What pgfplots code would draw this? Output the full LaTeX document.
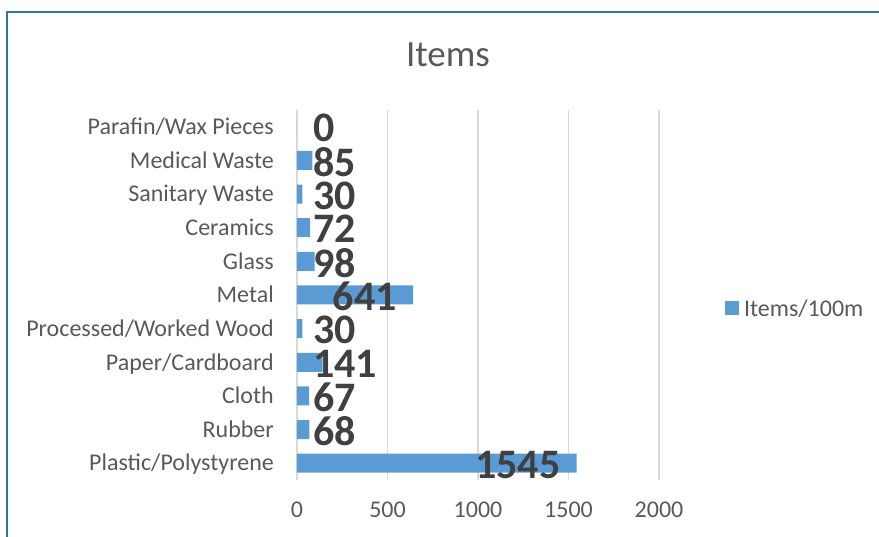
\documentclass[border=0pt]{standalone}
\usepackage{pgfplots}
\pgfplotsset{compat=1.18}
\usepackage{fontspec}
\setmainfont{Carlito}
\definecolor{barblue}{HTML}{5B9BD5}
\definecolor{txtgray}{HTML}{595959}
\definecolor{lblgray}{HTML}{404040}
\definecolor{gridgray}{HTML}{D9D9D9}
\definecolor{borderblue}{HTML}{2E75B6}
\begin{document}
\begin{tikzpicture}[x=1pt,y=1pt]
\useasboundingbox (0,0) rectangle (879,536);
\draw[borderblue, line width=1.3pt] (7,-5) -- (7,524) -- (885,524);
\node[anchor=base, text=txtgray, font=\fontsize{37}{44}\selectfont, inner sep=0pt] at (448,469.3) {Items};
\begin{axis}[
  at={(297pt,56pt)}, anchor=south west,
  scale only axis, width=362pt, height=370pt,
  xmin=0, xmax=2000, ymin=-0.5, ymax=10.5,
  enlargelimits=false,
  axis line style={draw=none},
  major tick length=0pt,
  xtick={0,500,1000,1500,2000},
  ytick={0,...,10},
  yticklabels={Plastic/Polystyrene, Rubber, Cloth, Paper/Cardboard, Processed/Worked Wood, Metal, Glass, Ceramics, Sanitary Waste, Medical Waste, Parafin/Wax Pieces},
  xmajorgrids, grid style={gridgray, line width=1.2pt},
  /pgf/number format/assume math mode=true,
  /pgf/number format/1000 sep={},
  xticklabel style={anchor=north, inner sep=0pt, yshift=-22pt, text=txtgray, font=\fontsize{24}{28}\selectfont},
  yticklabel style={anchor=east, inner sep=0pt, xshift=-23pt, text=txtgray, font=\fontsize{24}{28}\selectfont, text height=15.5pt, text depth=0pt},
  clip=false,
  legend style={at={(1.182,0.462)}, anchor=west, draw=none, fill=none, inner sep=0pt, column sep=5pt, nodes={inner sep=0pt}, font=\fontsize{24}{28}\selectfont, text=txtgray},
  legend cell align=left,
  legend image code/.code={\fill[barblue] (0pt,-5.5pt) rectangle (14pt,8.5pt);},
]
\addplot[xbar, bar width=19pt, fill=barblue, draw=none] coordinates {
  (1545,0) (68,1) (67,2) (141,3) (30,4) (641,5) (98,6) (72,7) (30,8) (85,9) (0,10)
};
\addlegendentry{Items/100m}
\addplot[draw=none, mark=none, forget plot, nodes near coords, point meta=explicit symbolic,
  nodes near coords style={anchor=west, xshift=16pt, yshift=-1.5pt, inner sep=0pt, text=lblgray, font=\fontsize{42}{48}\selectfont\bfseries}]
  coordinates {(0,1) [68] (0,2) [67] (0,3) [141] (0,4) [30] (0,6) [98] (0,7) [72] (0,8) [30] (0,9) [85] (0,10) [0]};
\addplot[draw=none, mark=none, forget plot, nodes near coords, point meta=explicit symbolic,
  nodes near coords style={anchor=east, xshift=-16pt, yshift=-1.5pt, inner sep=0pt, text=lblgray, font=\fontsize{42}{48}\selectfont\bfseries}]
  coordinates {(1545,0) [1545] (641,5) [641]};
\end{axis}
\end{tikzpicture}
\end{document}
